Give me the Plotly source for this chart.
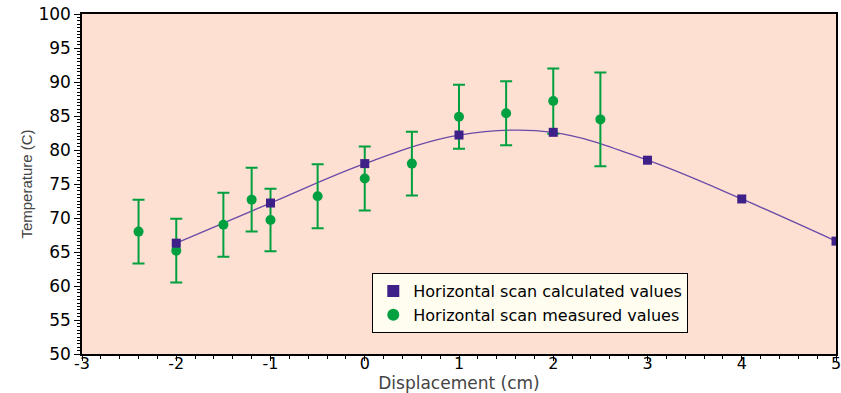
import plotly.graph_objects as go

calc_x = [-2, -1, 0, 1, 2, 3, 4, 5]
calc_y = [66.3, 72.2, 78.0, 82.2, 82.6, 78.5, 72.8, 66.6]

meas_x = [-2.4, -2, -1.5, -1.2, -1, -0.5, 0, 0.5, 1, 1.5, 2, 2.5]
meas_y = [68.0, 65.2, 69.0, 72.7, 69.7, 73.2, 75.8, 78.0, 84.9, 85.4, 87.2, 84.5]
meas_err = [4.7, 4.7, 4.7, 4.7, 4.6, 4.7, 4.7, 4.7, 4.7, 4.7, 4.8, 6.9]

x_tickvals = [-3, -2, -1, 0, 1, 2, 3, 4, 5]
x_ticktext = ["-3", "-2", "-1", "0", "1", "2", "3", "4", "5"]
y_tickvals = [50, 55, 60, 65, 70, 75, 80, 85, 90, 95, 100]
y_ticktext = ["50", "55", "60", "65", "70", "75", "80", "85", "90", "95", "100"]

purple = "#3d2088"
line_purple = "#6a4aa8"
green = "#00a040"
FONT = "DejaVu Sans, Liberation Sans, Arial, sans-serif"

fig = go.Figure()

fig.add_trace(go.Scatter(
    x=calc_x, y=calc_y, mode="lines",
    line=dict(color=line_purple, width=1.3, shape="spline", smoothing=1.0),
    showlegend=False, hoverinfo="skip",
))

fig.add_trace(go.Scatter(
    x=meas_x, y=meas_y, mode="markers",
    name="Horizontal scan measured values",
    marker=dict(symbol="circle", size=10, color=green),
    error_y=dict(type="data", array=meas_err, visible=True,
                 color=green, thickness=2, width=6),
    legendrank=2,
))

fig.add_trace(go.Scatter(
    x=calc_x, y=calc_y, mode="markers",
    name="Horizontal scan calculated values",
    marker=dict(symbol="square", size=9, color=purple),
    legendrank=1,
))

axis_common = dict(
    showline=True, linecolor="black", linewidth=1.5, mirror=True,
    ticks="outside", tickcolor="black", showgrid=False,
    zeroline=False, automargin=False, ticklabeloverflow="allow",
)

fig.update_xaxes(
    range=[-3, 5], tickmode="array", tickvals=x_tickvals, ticktext=x_ticktext,
    ticklen=5,
    minor=dict(dtick=0.2, tick0=-3, ticks="outside", ticklen=3, tickcolor="black"),
    ticklabelstandoff=-11,
    tickfont=dict(family=FONT, size=16, color="black"),
    title=dict(text="Displacement (cm)", standoff=0,
               font=dict(family=FONT, size=17, color="#444444")),
    **axis_common,
)
fig.update_yaxes(
    range=[50, 100], tickmode="array", tickvals=y_tickvals, ticktext=y_ticktext,
    ticklen=6,
    minor=dict(dtick=0.5, tick0=50, ticks="outside", ticklen=3, tickcolor="black"),
    tickfont=dict(family=FONT, size=17, color="black"),
    title=dict(text="Temperature (C)", standoff=2,
               font=dict(family="Liberation Sans, Arial, sans-serif", size=15, color="#444444")),
    **axis_common,
)

fig.update_layout(
    width=841, height=393,
    margin=dict(l=82, r=5, t=14, b=39),
    paper_bgcolor="white",
    plot_bgcolor="#fde0d1",
    legend=dict(
        x=0.385, y=0.238, xanchor="left", yanchor="top",
        bgcolor="#fffdf0", bordercolor="black", borderwidth=1,
        font=dict(family=FONT, size=16, color="black"),
        tracegroupgap=0, itemsizing="constant",
    ),
)

fig.write_html("out.html")
